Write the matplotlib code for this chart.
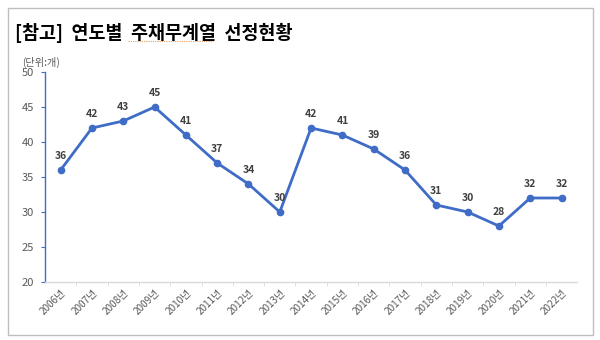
import matplotlib
matplotlib.use('Agg')
import matplotlib.pyplot as plt
from matplotlib.patches import Rectangle
from matplotlib.lines import Line2D

plt.rcParams['font.family'] = ['Noto Sans CJK KR', 'DejaVu Sans']

# 연도별 주채무계열 선정 개수
years = [f'{y}년' for y in range(2006, 2023)]
counts = [36, 42, 43, 45, 41, 37, 34, 30, 42, 41, 39, 36, 31, 30, 28, 32, 32]
y_ticks = [20, 25, 30, 35, 40, 45, 50]

LINE_BLUE = '#3F6CC6'
GRAY = '#595959'

fig = plt.figure(figsize=(6, 3.4), dpi=100)
ax = fig.add_axes([0.075, 0.1706, 0.887, 0.6176])

x = list(range(len(years)))
ax.plot(x, counts, color=LINE_BLUE, linewidth=2.0, marker='o', markersize=4.5, zorder=3)
for xi, v in zip(x, counts):
    ax.annotate(str(v), (xi, v), xytext=(0, 6.5), textcoords='offset points',
                ha='center', va='bottom', fontsize=7.5, fontweight='bold', color='#404040')

ax.set_xlim(-0.5, len(years) - 0.5)
ax.set_ylim(20, 50)
ax.set_yticks(y_ticks)
ax.set_yticklabels([str(t) for t in y_ticks], fontsize=8, color=GRAY)
ax.set_xticks(x)
ax.set_xticklabels(years, rotation=45, ha='right', rotation_mode='anchor', fontsize=7.2, color=GRAY)
ax.tick_params(axis='x', length=0, pad=4)
ax.set_xticks([i + 0.5 for i in x[:-1]], minor=True)
ax.tick_params(axis='x', which='minor', length=3, color='#d9d9d9', direction='out')
ax.tick_params(axis='y', length=3, color=LINE_BLUE, pad=5)

for s in ['top', 'right']:
    ax.spines[s].set_visible(False)
ax.spines['left'].set_color(LINE_BLUE)
ax.spines['left'].set_linewidth(1.0)
ax.spines['bottom'].set_color('#d9d9d9')
ax.spines['bottom'].set_linewidth(1.0)

# title and unit
fig.text(15 / 600, 1 - 33 / 340, '[참고]  연도별  주채무계열  선정현황', fontsize=13.3,
         fontweight='bold', va='center', ha='left', color='black')
fig.text(22 / 600, 1 - 62 / 340, '(단위:개)', fontsize=7.3, va='center', ha='left', color=GRAY)
# spell-check squiggle under 주채무계열
fig.lines.append(Line2D([128 / 600, 213 / 600], [1 - 41 / 340, 1 - 41 / 340], transform=fig.transFigure,
                        color='#E8A060', linewidth=0.8, linestyle=(0, (1, 1))))

# outer frame
fig.patches.append(Rectangle((8 / 600, 5 / 340), 585 / 600, 327 / 340, transform=fig.transFigure,
                             fill=False, edgecolor='#bfbfbf', linewidth=1.0))

fig.savefig('out.png', dpi=100)
